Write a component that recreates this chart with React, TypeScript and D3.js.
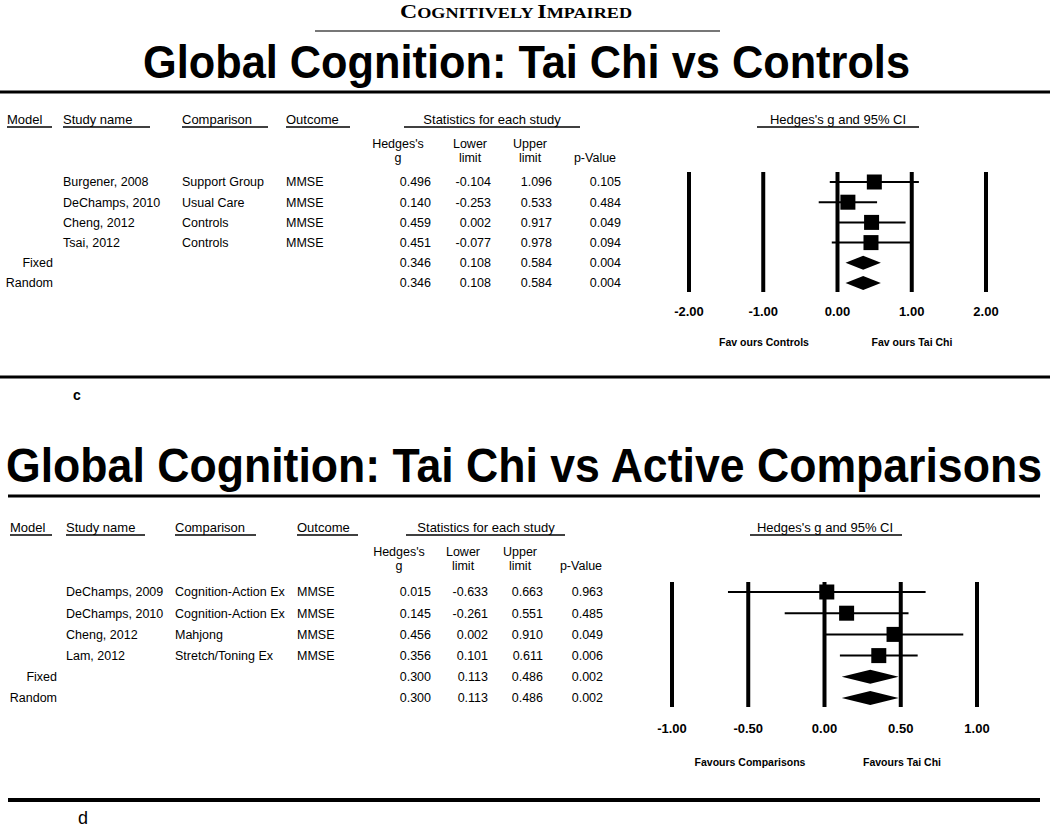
import React from "react";
import * as d3 from "d3";

// panel c: Tai Chi vs Controls
const modelsC = ["", "", "", "", "Fixed", "Random"];
const studiesC = ["Burgener, 2008", "DeChamps, 2010", "Cheng, 2012", "Tsai, 2012"];
const comparisonsC = ["Support Group", "Usual Care", "Controls", "Controls"];
const outcomesC = ["MMSE", "MMSE", "MMSE", "MMSE"];
const gC = [0.496, 0.14, 0.459, 0.451, 0.346, 0.346];
const lowerC = [-0.104, -0.253, 0.002, -0.077, 0.108, 0.108];
const upperC = [1.096, 0.533, 0.917, 0.978, 0.584, 0.584];
const pC = [0.105, 0.484, 0.049, 0.094, 0.004, 0.004];
const ticksC = [-2, -1, 0, 1, 2];

// panel d: Tai Chi vs Active Comparisons
const modelsD = ["", "", "", "", "Fixed", "Random"];
const studiesD = ["DeChamps, 2009", "DeChamps, 2010", "Cheng, 2012", "Lam, 2012"];
const comparisonsD = ["Cognition-Action Ex", "Cognition-Action Ex", "Mahjong", "Stretch/Toning Ex"];
const outcomesD = ["MMSE", "MMSE", "MMSE", "MMSE"];
const gD = [0.015, 0.145, 0.456, 0.356, 0.3, 0.3];
const lowerD = [-0.633, -0.261, 0.002, 0.101, 0.113, 0.113];
const upperD = [0.663, 0.551, 0.91, 0.611, 0.486, 0.486];
const pD = [0.963, 0.485, 0.049, 0.006, 0.002, 0.002];
const ticksD = [-1, -0.5, 0, 0.5, 1];

const SANS = "'Liberation Sans', Arial, Helvetica, sans-serif";
// plain hyphen for negatives, like the original
const loc = d3.formatLocale({ decimal: ".", thousands: ",", grouping: [3], currency: ["", ""], minus: "-" });
const f3 = loc.format(".3f");
const f2 = loc.format(".2f");

type Layout = {
  headY: number;
  ulY: number;
  heads: { label: string; x: number; u0: number; u1: number; anchor?: string }[];
  sub1Y: number;
  sub2Y: number;
  subX: number[]; // centers: g, lower, upper, p
  rowY: [number, number];
  modelX: number;
  studyX: number;
  compX: number;
  outX: number;
  valX: number[]; // right edges: g, lower, upper, p
  plotX: [number, number];
  plotY: [number, number];
  tickY: number;
  favY: number;
  favLeft: string;
  favRight: string;
  favLeftX: number;
  favRightX: number;
};

type PanelProps = {
  L: Layout;
  models: string[];
  studies: string[];
  comparisons: string[];
  outcomes: string[];
  g: number[];
  lower: number[];
  upper: number[];
  p: number[];
  ticks: number[];
};

const Panel = ({ L, models, studies, comparisons, outcomes, g, lower, upper, p, ticks }: PanelProps) => {
  const n = g.length;
  const y = d3.scaleLinear().domain([0, n - 1]).range(L.rowY);
  const x = d3.scaleLinear().domain(d3.extent(ticks) as [number, number]).range(L.plotX);
  const half = 7;
  const sq = 15;
  const cols = [g, lower, upper, p];

  return (
    <g fontFamily={SANS} fill="#000">
      {/* column headers */}
      {L.heads.map((h) => (
        <g key={h.label}>
          <text x={h.x} y={L.headY} dy="0.35em" fontSize={13} textAnchor={h.anchor || "start"}>
            {h.label}
          </text>
          <line x1={h.u0} x2={h.u1} y1={L.ulY} y2={L.ulY} stroke="#000" strokeWidth={1.6} />
        </g>
      ))}
      {[["Hedges's", "g"], ["Lower", "limit"], ["Upper", "limit"], ["", "p-Value"]].map((s, i) => (
        <g key={i} fontSize={12.5} textAnchor="middle">
          <text x={L.subX[i]} y={L.sub1Y} dy="0.35em">{s[0]}</text>
          <text x={L.subX[i]} y={L.sub2Y} dy="0.35em">{s[1]}</text>
        </g>
      ))}

      {/* rows */}
      {g.map((_, i) => (
        <g key={i} fontSize={12.5}>
          <text x={L.modelX} y={y(i)} dy="0.35em" textAnchor="end">{models[i]}</text>
          {i < studies.length && (
            <>
              <text x={L.studyX} y={y(i)} dy="0.35em">{studies[i]}</text>
              <text x={L.compX} y={y(i)} dy="0.35em">{comparisons[i]}</text>
              <text x={L.outX} y={y(i)} dy="0.35em">{outcomes[i]}</text>
            </>
          )}
          {cols.map((c, j) => (
            <text key={j} x={L.valX[j]} y={y(i)} dy="0.35em" textAnchor="end">{f3(c[i])}</text>
          ))}
        </g>
      ))}

      {/* forest plot */}
      {ticks.map((t) => (
        <g key={t}>
          <line x1={x(t)} x2={x(t)} y1={L.plotY[0]} y2={L.plotY[1]} stroke="#000" strokeWidth={4} />
          <text x={x(t)} y={L.tickY} dy="0.35em" textAnchor="middle" fontSize={13} fontWeight="bold">
            {f2(t)}
          </text>
        </g>
      ))}
      {g.map((v, i) =>
        i < studies.length ? (
          <g key={i}>
            <line x1={x(lower[i])} x2={x(upper[i])} y1={y(i)} y2={y(i)} stroke="#000" strokeWidth={2} />
            <rect x={x(v) - sq / 2} y={y(i) - sq / 2} width={sq} height={sq} fill="#000" />
          </g>
        ) : (
          <path
            key={i}
            d={`M${x(lower[i])},${y(i)}L${x(v)},${y(i) - half}L${x(upper[i])},${y(i)}L${x(v)},${y(i) + half}Z`}
            fill="#000"
          />
        )
      )}
      <text x={L.favLeftX} y={L.favY} dy="0.35em" textAnchor="middle" fontSize={10.5} fontWeight="bold">
        {L.favLeft}
      </text>
      <text x={L.favRightX} y={L.favY} dy="0.35em" textAnchor="middle" fontSize={10.5} fontWeight="bold">
        {L.favRight}
      </text>
    </g>
  );
};

const layoutC: Layout = {
  headY: 119,
  ulY: 127,
  heads: [
    { label: "Model", x: 7, u0: 7, u1: 52 },
    { label: "Study name", x: 63, u0: 63, u1: 150 },
    { label: "Comparison", x: 182, u0: 182, u1: 268 },
    { label: "Outcome", x: 286, u0: 286, u1: 350 },
    { label: "Statistics for each study", x: 492, u0: 404, u1: 580, anchor: "middle" },
    { label: "Hedges's g and 95% CI", x: 838, u0: 757, u1: 919, anchor: "middle" },
  ],
  sub1Y: 144,
  sub2Y: 158,
  subX: [398, 470, 530, 595],
  rowY: [182, 283],
  modelX: 53,
  studyX: 63,
  compX: 182,
  outX: 286,
  valX: [431, 491, 552, 621],
  plotX: [689, 986],
  plotY: [172, 292],
  tickY: 311,
  favY: 342,
  favLeft: "Fav ours Controls",
  favRight: "Fav ours Tai Chi",
  favLeftX: 764,
  favRightX: 912,
};

const layoutD: Layout = {
  headY: 527,
  ulY: 535,
  heads: [
    { label: "Model", x: 10, u0: 10, u1: 52 },
    { label: "Study name", x: 66, u0: 66, u1: 145 },
    { label: "Comparison", x: 175, u0: 175, u1: 256 },
    { label: "Outcome", x: 297, u0: 297, u1: 358 },
    { label: "Statistics for each study", x: 486, u0: 406, u1: 565, anchor: "middle" },
    { label: "Hedges's g and 95% CI", x: 825, u0: 750, u1: 902, anchor: "middle" },
  ],
  sub1Y: 552,
  sub2Y: 566,
  subX: [399, 463, 520, 581],
  rowY: [592, 698],
  modelX: 57,
  studyX: 66,
  compX: 175,
  outX: 297,
  valX: [431, 488, 543, 603],
  plotX: [672, 977],
  plotY: [582, 707],
  tickY: 728,
  favY: 762,
  favLeft: "Favours Comparisons",
  favRight: "Favours Tai Chi",
  favLeftX: 750,
  favRightX: 902,
};

export default function App() {
  return (
    <svg
      width={1050}
      height={827}
      style={{ position: "absolute", left: 0, top: 0, background: "#fff" }}
    >
      <rect width={1050} height={827} fill="#fff" />
      {/* running head */}
      <text
        x={400}
        y={18}
        fontFamily="'Liberation Serif', 'Times New Roman', serif"
        fontWeight="bold"
        textLength={232}
        lengthAdjust="spacingAndGlyphs"
      >
        <tspan fontSize={19}>C</tspan>
        <tspan fontSize={14.5}>OGNITIVELY </tspan>
        <tspan fontSize={19}>I</tspan>
        <tspan fontSize={14.5}>MPAIRED</tspan>
      </text>
      <line x1={315} x2={720} y1={31} y2={31} stroke="#777" strokeWidth={2} />

      <g transform="translate(143,78) scale(1,1.15)">
        <text
          x={0}
          y={0}
          fontFamily={SANS}
          fontWeight="bold"
          fontSize={40}
          textLength={767}
          lengthAdjust="spacingAndGlyphs"
        >
          Global Cognition: Tai Chi vs Controls
        </text>
      </g>
      <line x1={0} x2={1050} y1={92} y2={92} stroke="#000" strokeWidth={3} />

      <Panel
        L={layoutC}
        models={modelsC}
        studies={studiesC}
        comparisons={comparisonsC}
        outcomes={outcomesC}
        g={gC}
        lower={lowerC}
        upper={upperC}
        p={pC}
        ticks={ticksC}
      />

      <line x1={0} x2={1050} y1={377} y2={377} stroke="#000" strokeWidth={3} />
      <text x={73} y={400} fontFamily={SANS} fontWeight="bold" fontSize={14}>c</text>

      <g transform="translate(6,482) scale(1,1.25)">
        <text
          x={0}
          y={0}
          fontFamily={SANS}
          fontWeight="bold"
          fontSize={38}
          textLength={1036}
          lengthAdjust="spacingAndGlyphs"
        >
          Global Cognition: Tai Chi vs Active Comparisons
        </text>
      </g>
      <line x1={8} x2={1040} y1={496} y2={496} stroke="#000" strokeWidth={3} />

      <Panel
        L={layoutD}
        models={modelsD}
        studies={studiesD}
        comparisons={comparisonsD}
        outcomes={outcomesD}
        g={gD}
        lower={lowerD}
        upper={upperD}
        p={pD}
        ticks={ticksD}
      />

      <line x1={8} x2={1040} y1={800} y2={800} stroke="#000" strokeWidth={4} />
      <text x={78} y={824} fontFamily={SANS} fontSize={18}>d</text>
    </svg>
  );
}
